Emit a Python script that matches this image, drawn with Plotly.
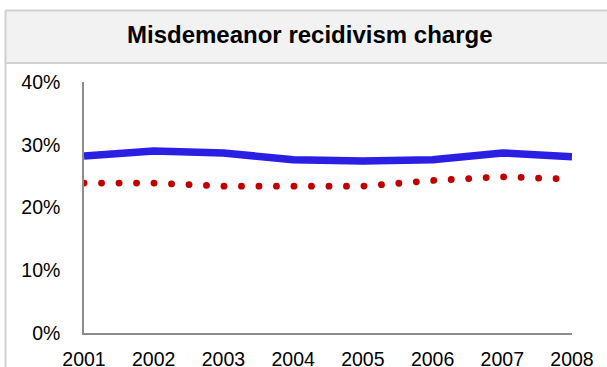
import plotly.graph_objects as go

# Annual misdemeanor recidivism charge rates
years = [2001, 2002, 2003, 2004, 2005, 2006, 2007, 2008]
series_solid = [0.282, 0.290, 0.287, 0.276, 0.274, 0.276, 0.287, 0.281]
series_dotted = [0.239, 0.239, 0.234, 0.233, 0.234, 0.243, 0.249, 0.245]
y_ticks = [0, 0.1, 0.2, 0.3, 0.4]
y_tick_text = ["0%", "10%", "20%", "30%", "40%"]
title_text = "Misdemeanor recidivism charge"

W, H = 607, 367
L, R, T, B = 84, 35, 82, 34
pw, ph = W - L - R, H - T - B


def px_x(p):
    return (p - L) / pw


def px_y(p):
    return (H - B - p) / ph


fig = go.Figure()
fig.add_trace(go.Scatter(
    x=years, y=series_solid, mode="lines",
    line=dict(color="#2A1FE2", width=7.5),
    hoverinfo="skip", showlegend=False,
))
fig.add_trace(go.Scatter(
    x=years, y=series_dotted, mode="lines",
    line=dict(color="#C00000", width=6.8, dash="0.1px,17.4px"),
    hoverinfo="skip", showlegend=False,
))

border = "#D0D0D0"
xl, xr = px_x(5.5), px_x(W)
yt, yb, yband = px_y(10.5), px_y(H), px_y(63)
fig.update_layout(
    width=W, height=H,
    margin=dict(l=L, r=R, t=T, b=B, pad=0, autoexpand=False),
    paper_bgcolor="white", plot_bgcolor="rgba(0,0,0,0)",
    font=dict(family="Liberation Sans, Arial, sans-serif", color="black", size=19.5),
    shapes=[
        # title band fill
        dict(type="rect", xref="paper", yref="paper", layer="below",
             x0=xl, x1=xr, y0=yt, y1=yband,
             line=dict(width=0), fillcolor="#F2F2F2"),
        # frame edges: left, top, and band separator
        dict(type="line", xref="paper", yref="paper", layer="below",
             x0=xl, x1=xl, y0=yt, y1=yb, line=dict(color=border, width=2)),
        dict(type="line", xref="paper", yref="paper", layer="below",
             x0=xl, x1=xr, y0=yt, y1=yt, line=dict(color=border, width=2)),
        dict(type="line", xref="paper", yref="paper", layer="below",
             x0=xl, x1=xr, y0=yband, y1=yband, line=dict(color=border, width=2)),
    ],
    annotations=[dict(
        text="<b>" + title_text + "</b>", xref="paper", yref="paper",
        x=px_x(309), y=px_y(35), xanchor="center", yanchor="middle",
        showarrow=False, font=dict(size=24, color="black"),
    )],
)
fig.update_xaxes(
    range=[2001, 2008], tickvals=years, ticktext=[str(y) for y in years],
    showgrid=False, zeroline=False, showline=True, linecolor="#8C8C8C",
    linewidth=1.5, ticks="", ticklabelstandoff=8, automargin=False,
)
fig.update_yaxes(
    range=[0, 0.4], tickvals=y_ticks, ticktext=y_tick_text,
    showgrid=False, zeroline=False, showline=True, linecolor="#8C8C8C",
    linewidth=1.5, ticks="", ticklabelstandoff=18, automargin=False,
)

page_js = """
document.documentElement.style.overflow = 'hidden';
document.body.style.overflow = 'hidden';
document.body.style.margin = '0';
var gd = document.querySelector('.plotly-graph-div');
function roundDots() {
  var lines = gd.querySelectorAll('.scatterlayer .trace');
  if (lines.length > 1) {
    lines[1].querySelectorAll('.js-line').forEach(function (p) {
      p.style.strokeLinecap = 'round';
    });
  }
}
roundDots();
gd.on('plotly_afterplot', roundDots);
"""

fig.write_html("out.html", post_script=page_js,
               config={"displayModeBar": False})
